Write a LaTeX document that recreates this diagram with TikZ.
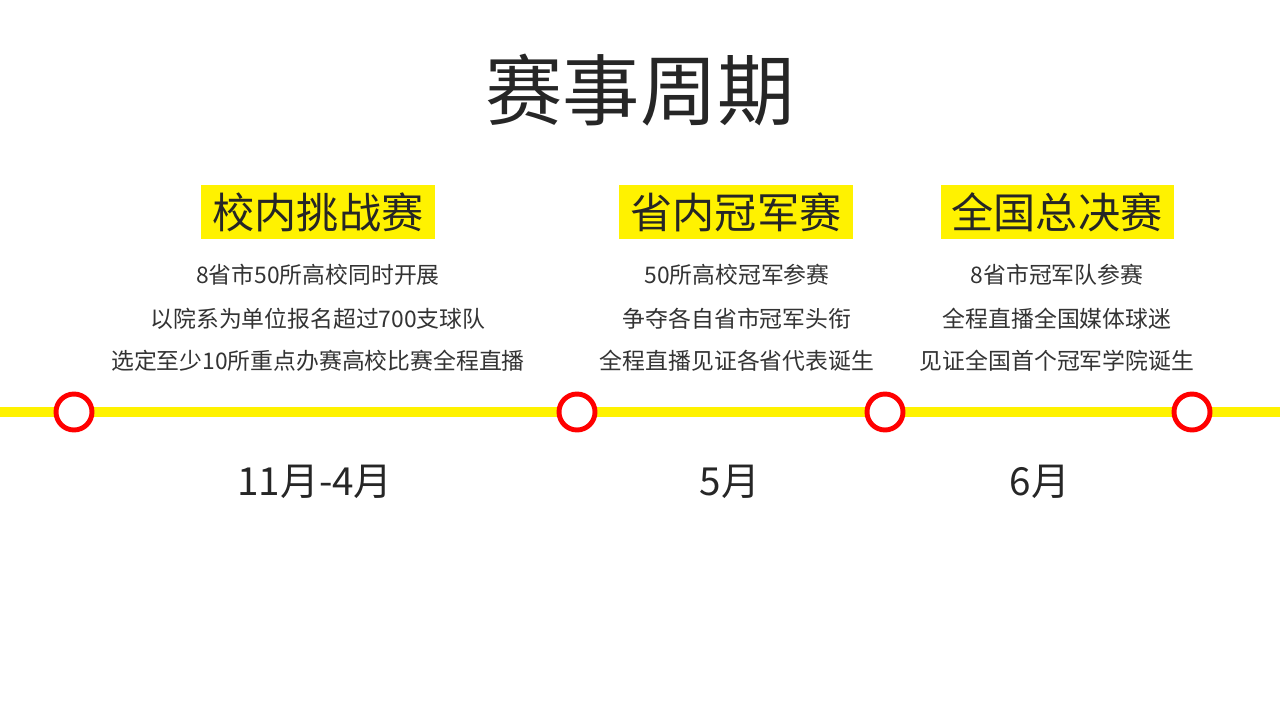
\documentclass[tikz,border=0pt]{standalone}
\usepackage{fontspec}
\setmainfont{Noto Sans CJK SC}
\begin{document}
\begin{tikzpicture}[x=0.02cm,y=-0.02cm,
  head/.style={fill=yellow,inner sep=0pt,minimum width=234\pgflinewidth,text height=0.9em,font=\fontsize{24}{28}\selectfont,text=black!85},
  body/.style={font=\fontsize{13}{16}\selectfont,text=black!80},
  date/.style={font=\fontsize{22}{26}\selectfont,text=black!85},
  ring/.style={circle,draw=red,line width=2.8pt,fill=white,minimum size=0.72cm,inner sep=0pt}]
\useasboundingbox (0,0) rectangle (1280,720);
\node[font=\fontsize{44}{50}\selectfont,text=black!85] (title) at (640,90) {赛事周期};
\coordinate (l) at (0,412); \coordinate (r) at (1280,412);
\draw[yellow,line width=5.5pt] (l) -- (r);
\foreach \x/\n in {74/c1,577/c2,885/c3,1192/c4} \node[ring] (\n) at (\x,412) {};
\foreach \x/\t/\w [count=\i] in {318/校内挑战赛/234,736/省内冠军赛/234,1057/全国总决赛/233}{
  \node[fill=yellow,minimum width=\w*0.02cm,minimum height=1.1cm,inner sep=0pt,font=\fontsize{24}{28}\selectfont,text=black!85] (h\i) at (\x,212) {\t};}
\node[body] (a1) at (318,275) {8省市50所高校同时开展};
\node[body] (a2) at (318,319) {以院系为单位报名超过700支球队};
\node[body] (a3) at (318,361) {选定至少10所重点办赛高校比赛全程直播};
\node[body] (b1) at (737,275) {50所高校冠军参赛};
\node[body] (b2) at (737,319) {争夺各自省市冠军头衔};
\node[body] (b3) at (737,361) {全程直播见证各省代表诞生};
\node[body] (d1) at (1057,275) {8省市冠军队参赛};
\node[body] (d2) at (1057,319) {全程直播全国媒体球迷};
\node[body] (d3) at (1057,361) {见证全国首个冠军学院诞生};
\node[date] (t1) at (315,482) {11月-4月};
\node[date] (t2) at (730,482) {5月};
\node[date] (t3) at (1040,482) {6月};
\end{tikzpicture}
\end{document}
